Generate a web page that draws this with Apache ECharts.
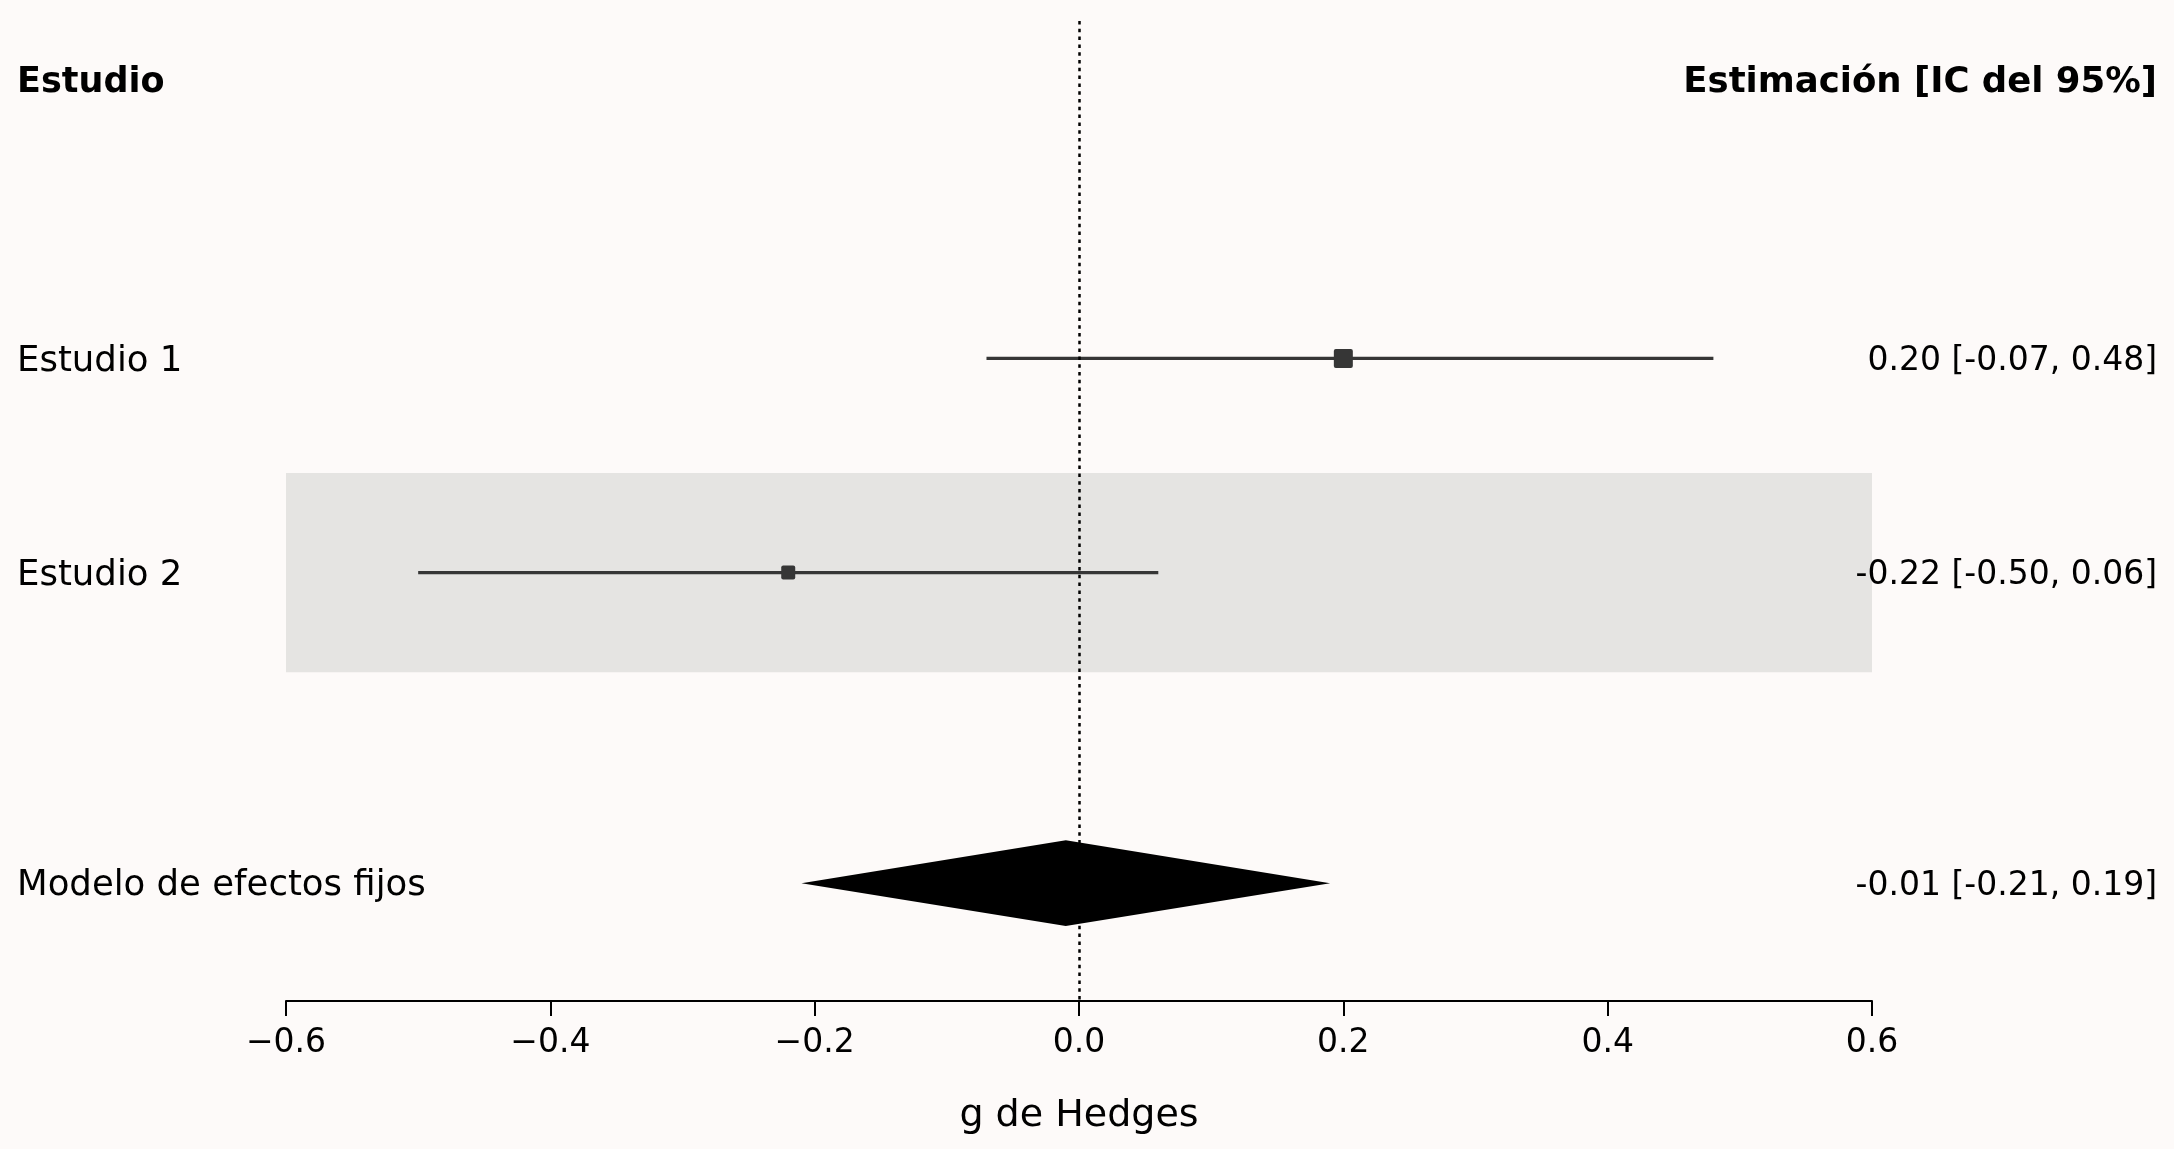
<!DOCTYPE html>
<html>
<head>
<meta charset="utf-8">
<script src="https://cdn.jsdelivr.net/npm/echarts@6/dist/echarts.min.js"></script>
<style>
  html, body { margin: 0; padding: 0; background: #fdfaf9; }
  #main { width: 2174px; height: 1149px; }
</style>
</head>
<body>
<div id="main"></div>
<script>
// datos del forest plot
var studies = ['Estudio 1', 'Estudio 2'];
var estimates = [0.20, -0.22];
var ciLower = [-0.07, -0.50];
var ciUpper = [0.48, 0.06];
var shaded = [false, true];

var pooledLabel = 'Modelo de efectos fijos';
var pooledEst = -0.01;
var pooledLower = -0.21;
var pooledUpper = 0.19;

var headerLeft = 'Estudio';
var headerRight = 'Estimación [IC del 95%]';
var xName = 'g de Hedges';

// posiciones de fila (eje y invertido)
var headerPos = -0.3;
var rowPos = [1, 2];
var pooledPos = 3.45;

// estilos
var markerSizes = [19, 14];
var bandHalf = 0.465;
var diamondHalf = 0.2;
var FONT = 'DejaVu Sans';

function fmtCI(e, lo, hi) {
    return e.toFixed(2) + ' [' + lo.toFixed(2) + ', ' + hi.toFixed(2) + ']';
}

var studyData = studies.map(function (name, i) {
    return [estimates[i], rowPos[i], ciLower[i], ciUpper[i], i];
});

var textRows = [{ value: [0, headerPos], l: headerLeft, r: headerRight, bold: true }];
studies.forEach(function (name, i) {
    textRows.push({ value: [0, rowPos[i]], l: name, r: fmtCI(estimates[i], ciLower[i], ciUpper[i]), bold: false });
});
textRows.push({ value: [0, pooledPos], l: pooledLabel, r: fmtCI(pooledEst, pooledLower, pooledUpper), bold: false });

var chart = echarts.init(document.getElementById('main'));

var option = {
    backgroundColor: '#fdfaf9',
    animation: false,
    grid: { left: 286, right: 302, top: 21, bottom: 148 },
    xAxis: {
        type: 'value',
        min: -0.6,
        max: 0.6,
        interval: 0.2,
        name: xName,
        nameLocation: 'middle',
        nameGap: 96,
        nameTextStyle: { fontFamily: FONT, fontSize: 38, color: '#000' },
        axisLine: { show: true, onZero: false, lineStyle: { color: '#000', width: 2 } },
        axisTick: { show: true, length: 15, lineStyle: { color: '#000', width: 2 } },
        splitLine: { show: false },
        axisLabel: {
            fontFamily: FONT,
            fontSize: 33,
            color: '#000',
            margin: 26,
            formatter: function (v) {
                var s = Math.abs(v).toFixed(1);
                return v < -1e-9 ? '\u2212' + s : s;
            }
        }
    },
    yAxis: {
        type: 'value',
        inverse: true,
        min: -0.575,
        max: 4.0,
        show: false
    },
    series: [
        {
            // franja gris de filas alternas
            type: 'custom',
            silent: true,
            z: 1,
            data: studyData.filter(function (d) { return shaded[d[4]]; }),
            renderItem: function (params, api) {
                var p1 = api.coord([-0.6, api.value(1) - bandHalf]);
                var p2 = api.coord([0.6, api.value(1) + bandHalf]);
                return {
                    type: 'rect',
                    shape: { x: p1[0], y: p1[1], width: p2[0] - p1[0], height: p2[1] - p1[1] },
                    style: { fill: '#e5e4e2' }
                };
            }
        },
        {
            // línea vertical en 0
            type: 'line',
            data: [],
            z: 2,
            markLine: {
                silent: true,
                symbol: 'none',
                label: { show: false },
                lineStyle: { color: '#000', width: 2.5, type: [3.5, 4.3] },
                data: [{ xAxis: 0 }]
            }
        },
        {
            // IC y estimaciones de cada estudio
            type: 'custom',
            silent: true,
            z: 3,
            data: studyData,
            renderItem: function (params, api) {
                var y = api.value(1);
                var a = api.coord([api.value(2), y]);
                var b = api.coord([api.value(3), y]);
                var c = api.coord([api.value(0), y]);
                var s = markerSizes[api.value(4)];
                return {
                    type: 'group',
                    children: [
                        {
                            type: 'line',
                            shape: { x1: a[0], y1: a[1], x2: b[0], y2: b[1] },
                            style: { stroke: '#363636', lineWidth: 3.2 }
                        },
                        {
                            type: 'rect',
                            shape: { x: c[0] - s / 2, y: c[1] - s / 2, width: s, height: s, r: 2 },
                            style: { fill: '#363636' }
                        }
                    ]
                };
            }
        },
        {
            // diamante del modelo
            type: 'custom',
            silent: true,
            z: 4,
            data: [[pooledEst, pooledPos, pooledLower, pooledUpper]],
            renderItem: function (params, api) {
                var y = api.value(1), e = api.value(0);
                return {
                    type: 'polygon',
                    shape: {
                        points: [
                            api.coord([api.value(2), y]),
                            api.coord([e, y - diamondHalf]),
                            api.coord([api.value(3), y]),
                            api.coord([e, y + diamondHalf])
                        ]
                    },
                    style: { fill: '#000' }
                };
            }
        },
        {
            // textos de las columnas
            type: 'custom',
            silent: true,
            z: 5,
            clip: false,
            data: textRows,
            renderItem: function (params, api) {
                var row = textRows[params.dataIndex];
                var y = api.coord([0, api.value(1)])[1] + 3;
                var leftFont = row.bold ? 'bold 35px "' + FONT + '"' : '35.5px "' + FONT + '"';
                var rightFont = row.bold ? 'bold 35.5px "' + FONT + '"' : '33px "' + FONT + '"';
                return {
                    type: 'group',
                    children: [
                        {
                            type: 'text',
                            x: 17, y: y,
                            style: {
                                text: row.l, fill: '#000', font: leftFont,
                                textAlign: 'left', textVerticalAlign: 'middle'
                            }
                        },
                        {
                            type: 'text',
                            x: api.getWidth() - 17, y: y,
                            style: {
                                text: row.r, fill: '#000', font: rightFont,
                                textAlign: 'right', textVerticalAlign: 'middle'
                            }
                        }
                    ]
                };
            }
        }
    ]
};

chart.setOption(option);
</script>
</body>
</html>
